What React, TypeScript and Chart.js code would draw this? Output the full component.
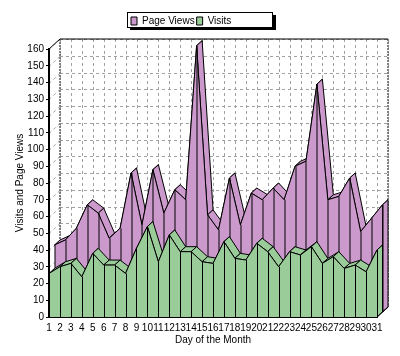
import React, { useEffect, useRef } from 'react';
import { Chart, registerables } from 'chart.js';

const days = ['1','2','3','4','5','6','7','8','9','10','11','12','13','14','15','16','17','18','19','20','21','22','23','24','25','26','27','28','29','30','31'];
const pageViews = [40,43,50,64,59,44,50,83,52,85,59,73,67,159,58,49,80,52,71,67,74,67,87,90,136,67,69,80,48,56,64];
const visits = [26,30,32,24,38,31,31,26,41,54,33,49,39,39,33,32,45,35,34,44,39,30,39,37,42,32,36,29,31,27,40];
const seriesNames = ['Page Views', 'Visits'];
const seriesColors = ['#CC99CC', '#99CC99'];

const FONT = '"Liberation Sans", Arial, sans-serif';
const STEP_X = 5.5;
const STEP_Y = 5;
const offsetOf = (index: number) => (index === 0 ? 1 : 0);

const depthPlugin = {
  id: 'depth3d',
  beforeDraw(chart: any) {
    const c = chart.ctx;
    c.save();
    c.fillStyle = '#000';
    c.fillRect(130, 15, 146, 15);
    c.fillStyle = '#fff';
    c.fillRect(127.5, 12.5, 145, 15);
    c.strokeStyle = '#000';
    c.lineWidth = 1;
    c.strokeRect(127.5, 12.5, 145, 15);
    c.restore();
  },
  afterLayout(chart: any) {
    chart.legend.left = 129;
    chart.legend.top = 14;
  },
  beforeDatasetsDraw(chart: any) {
    const c = chart.ctx;
    const { x, y } = chart.scales;
    const dx = STEP_X * 2;
    const dy = STEP_Y * 2;
    const top = y.getPixelForValue(160);
    const bottom = y.getPixelForValue(0);
    c.save();
    c.strokeStyle = '#A0A0A0';
    c.lineWidth = 1;
    c.setLineDash([3, 3]);
    y.ticks.forEach((t: any) => {
      const py = Math.round(y.getPixelForValue(t.value)) + 0.5;
      c.beginPath();
      c.moveTo(x.left + dx, py - dy);
      c.lineTo(x.right + dx, py - dy);
      c.stroke();
      c.beginPath();
      c.moveTo(x.left, py);
      c.lineTo(x.left + dx, py - dy);
      c.stroke();
    });
    days.forEach((_d, i) => {
      const px = Math.round(x.getPixelForValue(i)) + 0.5;
      c.beginPath();
      c.moveTo(px + dx, top - dy);
      c.lineTo(px + dx, bottom - dy);
      c.stroke();
      c.beginPath();
      c.moveTo(px, bottom);
      c.lineTo(px + dx, bottom - dy);
      c.stroke();
    });
    c.strokeStyle = '#808080';
    c.lineWidth = 2;
    c.setLineDash([2, 1]);
    c.beginPath();
    c.moveTo(x.left + dx, top - dy);
    c.lineTo(x.left + dx, bottom - dy);
    c.moveTo(x.right + dx, top - dy);
    c.lineTo(x.right + dx, bottom - dy);
    c.stroke();
    c.setLineDash([]);
    c.lineWidth = 1;
    c.strokeStyle = '#000';
    c.beginPath();
    c.moveTo(x.left, top);
    c.lineTo(x.left + dx, top - dy);
    c.lineTo(x.right + dx, top - dy);
    c.stroke();
    c.restore();
  },
  beforeDatasetDraw(chart: any, args: any) {
    const c = chart.ctx;
    const { x, y } = chart.scales;
    const idx = args.index;
    const values = chart.data.datasets[idx].data as number[];
    const color = seriesColors[idx];
    const base = y.getPixelForValue(0);
    c.save();
    c.translate(offsetOf(idx) * STEP_X, -offsetOf(idx) * STEP_Y);
    c.lineWidth = 1;
    c.strokeStyle = '#000';
    c.fillStyle = color;
    for (let i = 0; i < values.length - 1; i++) {
      const x0 = x.getPixelForValue(i);
      const x1 = x.getPixelForValue(i + 1);
      const y0 = y.getPixelForValue(values[i]);
      const y1 = y.getPixelForValue(values[i + 1]);
      c.beginPath();
      c.moveTo(x0, y0);
      c.lineTo(x1, y1);
      c.lineTo(x1 + STEP_X, y1 - STEP_Y);
      c.lineTo(x0 + STEP_X, y0 - STEP_Y);
      c.closePath();
      c.fill();
      c.stroke();
    }
    const last = values.length - 1;
    const xl = x.getPixelForValue(last);
    const yl = y.getPixelForValue(values[last]);
    c.beginPath();
    c.moveTo(xl, yl);
    c.lineTo(xl + STEP_X, yl - STEP_Y);
    c.lineTo(xl + STEP_X, base - STEP_Y);
    c.lineTo(xl, base);
    c.closePath();
    c.fill();
    c.stroke();
  },
  afterDatasetDraw(chart: any, args: any) {
    const c = chart.ctx;
    const { x, y } = chart.scales;
    const values = chart.data.datasets[args.index].data as number[];
    const base = y.getPixelForValue(0);
    c.lineWidth = 1;
    c.strokeStyle = '#000';
    c.beginPath();
    values.forEach((v, i) => {
      const px = Math.round(x.getPixelForValue(i)) + 0.5;
      c.moveTo(px, y.getPixelForValue(v));
      c.lineTo(px, base);
    });
    c.stroke();
    c.restore();
  },
  afterDatasetsDraw(chart: any) {
    const c = chart.ctx;
    const { x, y } = chart.scales;
    const base = y.getPixelForValue(0);
    c.save();
    c.strokeStyle = '#000';
    c.lineWidth = 1;
    c.beginPath();
    c.moveTo(x.right, base);
    c.lineTo(x.right + STEP_X * 2, base - STEP_Y * 2);
    c.stroke();
    c.restore();
  },
};

export default function App() {
  const ref = useRef<HTMLCanvasElement>(null);
  useEffect(() => {
    Chart.register(depthPlugin as any, ...registerables);
    const chart = new Chart(ref.current as HTMLCanvasElement, {
      type: 'line',
      data: {
        labels: days,
        datasets: [
          {
            label: seriesNames[0], data: pageViews, order: 2, clip: false,
            backgroundColor: seriesColors[0], borderColor: '#000', borderWidth: 1,
            fill: 'origin', tension: 0, pointRadius: 0,
          },
          {
            label: seriesNames[1], data: visits, order: 1, clip: false,
            backgroundColor: seriesColors[1], borderColor: '#000', borderWidth: 1,
            fill: 'origin', tension: 0, pointRadius: 0,
          },
        ] as any,
      },
      options: {
        animation: false,
        responsive: false,
        layout: { padding: { top: 27, left: 0, right: 23, bottom: 0 } },
        plugins: {
          tooltip: { enabled: false },
          legend: {
            display: true,
            position: 'top',
            align: 'start',
            labels: {
              boxWidth: 6,
              boxHeight: 8,
              padding: 2,
              color: '#000',
              font: { family: FONT, size: 10 },
              sort: (a: any, b: any) => a.datasetIndex - b.datasetIndex,
            },
          },
        },
        scales: {
          x: {
            type: 'category',
            offset: false,
            grid: { display: false, drawTicks: false },
            border: { display: true, color: '#000', width: 1, z: 1 },
            ticks: {
              autoSkip: false, maxRotation: 0, minRotation: 0, color: '#000', padding: 5,
              font: { family: FONT, size: 10 },
            },
            title: {
              display: true, text: 'Day of the Month', color: '#000',
              padding: { top: 2, bottom: 10 }, font: { family: FONT, size: 10 },
            },
            afterFit: (s: any) => { s.height = 39; },
          },
          y: {
            type: 'linear',
            min: 0,
            max: 160,
            grid: { display: true, drawOnChartArea: false, drawTicks: true, tickLength: 3, color: '#000' },
            border: { display: true, color: '#000', width: 2, z: 1 },
            ticks: {
              stepSize: 10, color: '#000', padding: 2,
              font: { family: FONT, size: 10 },
            },
            title: {
              display: true, text: 'Visits and Page Views', color: '#000',
              padding: { top: 14, bottom: 0 }, font: { family: FONT, size: 10 },
            },
            afterFit: (s: any) => { s.width = 49; },
          },
        },
      } as any,
    });
    return () => chart.destroy();
  }, []);
  return (
    <div style={{ position: 'absolute', left: 0, top: 0, width: 400, height: 356 }}>
      <canvas ref={ref} width={400} height={356} style={{ display: 'block' }} />
    </div>
  );
}
